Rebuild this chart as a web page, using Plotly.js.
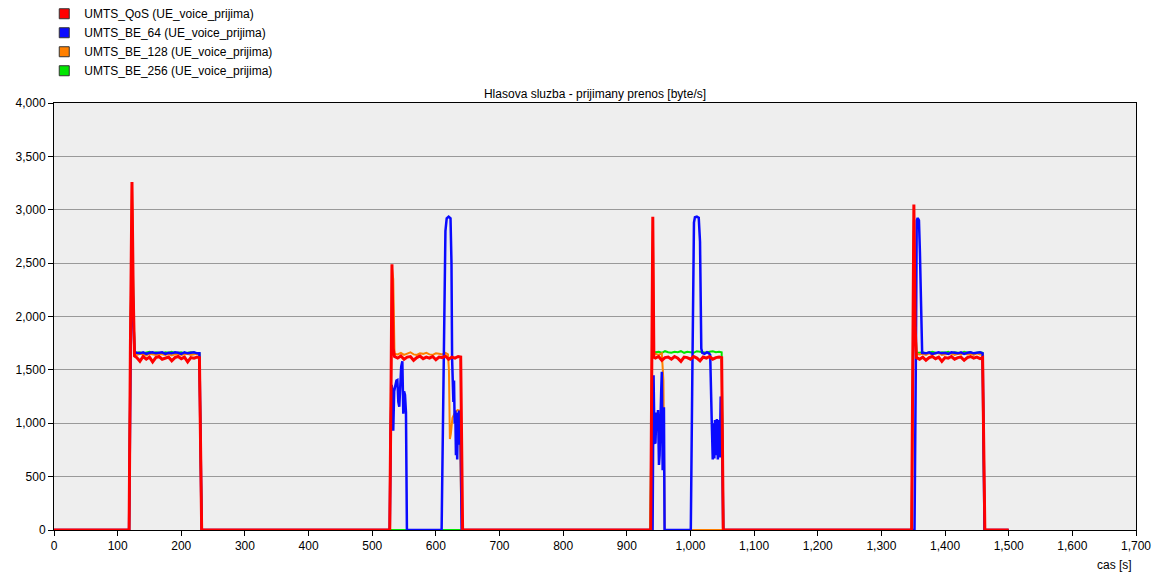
<!DOCTYPE html>
<html>
<head>
<meta charset="utf-8">
<script src="https://cdn.plot.ly/plotly-3.0.1.min.js"></script>
<style>html,body{margin:0;padding:0;background:#fff;}#chart{width:1160px;height:574px;}</style>
</head>
<body>
<div id="chart"></div>
<script>
// ---- Data ----
const seriesNames = [
  "UMTS_QoS (UE_voice_prijima)",
  "UMTS_BE_64 (UE_voice_prijima)",
  "UMTS_BE_128 (UE_voice_prijima)",
  "UMTS_BE_256 (UE_voice_prijima)"
];
const chartTitle = "Hlasova sluzba - prijimany prenos [byte/s]";
const xAxisLabel = "cas [s]";

// UMTS_QoS
const tQoS = [0,118,120,122.5,124.5,126.5,
  130,135,140,145,150,155,160,165,170,175,180,185,190,195,200,205,210,215,220,225,228.5,232,
  527.5,529.5,531,533,535,
  540,545,550,555,560,565,570,575,580,585,590,595,600,605,610,615,620,625,630,635,639,642,
  937.5,939.5,940.8,942.5,
  945,950,955,960,965,970,975,980,985,990,995,1000,1005,1010,1015,1020,1025,1030,1035,1040,1045,1049,1051.5,
  1347.5,1349.5,1351,1353,1355,
  1360,1365,1370,1375,1380,1385,1390,1395,1400,1405,1410,1415,1420,1425,1430,1435,1440,1445,1450,1455,1459,1462.5,1500];
const vQoS = [0,0,1700,3260,2200,1630,
  1615,1580,1625,1600,1620,1575,1615,1625,1600,1610,1620,1585,1615,1625,1605,1620,1575,1615,1610,1620,1615,0,
  0,1300,2490,1700,1625,
  1610,1630,1600,1620,1625,1590,1615,1630,1605,1620,1610,1625,1595,1620,1615,1630,1600,1620,1610,1625,1620,0,
  0,1500,2935,1620,
  1610,1625,1590,1615,1620,1600,1625,1610,1580,1620,1615,1600,1625,1610,1585,1620,1610,1625,1600,1615,1620,1615,0,
  0,1500,3050,1900,1615,
  1600,1620,1590,1615,1625,1605,1620,1580,1615,1610,1625,1600,1615,1620,1590,1615,1625,1610,1620,1605,1615,0,0];

// UMTS_BE_64
const tBE64 = [0,118,120,122.5,124.5,126.5,
  130,135,140,145,150,155,160,165,170,175,180,185,190,195,200,205,210,215,220,225,228.5,232,
  527.5,529,530.5,532,533,534.5,536,538,539.5,541,542.5,544,545.5,547.3,548.8,550,551.5,553,554.5,
  609,612,615,617,620,623,624.5,625.5,626.5,627.5,628.5,629.5,630.5,631.5,632.5,633.5,634.5,635.5,636.5,637.5,638.5,640.5,
  940.5,942,943.5,945,946.5,948,949,950.5,951.5,952.5,954,955,956.3,957.5,958.3,959.3,
  1000.5,1003,1005.5,1007,1010,1013,1015,1017,1018.5,1022,1026,1029,1031,1033.5,1035,1036.5,1037.5,1038.5,1040,1041.5,1043,1044.5,1046,1047.5,1049,1051.5,
  1352,1354,1355.5,1357,1359,1360.5,1362,1364,
  1370,1375,1380,1385,1390,1395,1400,1405,1410,1415,1420,1425,1430,1435,1440,1445,1450,1455,1459,1462,1500];
const vBE64 = [0,0,1400,2750,2000,1665,
  1660,1655,1665,1650,1660,1665,1655,1660,1665,1650,1660,1655,1665,1660,1650,1665,1655,1660,1665,1655,1655,0,
  0,900,1360,1300,930,1300,1340,1400,1405,1200,1155,1400,1530,1580,1090,1300,1265,1100,0,
  0,1200,2800,2920,2935,2920,2500,1600,1420,1200,1400,1000,1120,700,1100,660,1050,800,1120,1000,1080,0,
  0,1450,820,810,1100,1000,1124,610,700,1155,1300,1483,560,800,1150,0,
  0,1500,2880,2930,2935,2925,2700,1700,1660,1650,1665,1655,1640,1000,660,1000,670,1030,700,1040,660,1030,680,1250,1200,0,
  0,1500,2900,2923,2900,2600,2000,1660,
  1655,1665,1650,1660,1665,1655,1660,1650,1665,1660,1655,1665,1650,1660,1665,1655,1660,1665,1655,0,0];

// UMTS_BE_128
const tBE128 = [0,118,120,122.5,124.5,126.5,
  130,135,140,145,150,155,160,165,170,175,180,185,190,195,200,205,210,215,220,225,228.5,232,
  527.5,529.5,531,533,535,
  540,545,550,555,560,565,570,575,580,585,590,595,600,605,610,615,
  619,620.5,622,623.5,626,630,634,637,640.5,
  937.5,939.5,941,942.5,945,950,955,957.5,959.5,
  1347.5,1349.5,1351,1353,1355,
  1360,1365,1370,1375,1380,1385,1390,1395,1400,1405,1410,1415,1420,1425,1430,1435,1440,1445,1450,1455,1459,1462,1500];
const vBE128 = [0,0,1600,3200,2200,1645,
  1640,1650,1645,1635,1650,1645,1640,1650,1645,1640,1650,1635,1645,1650,1640,1645,1650,1640,1645,1650,1645,0,
  0,1500,2450,2350,1650,
  1645,1660,1640,1650,1665,1645,1640,1655,1650,1660,1645,1640,1655,1650,1645,1660,
  1645,1500,852,900,1050,1100,1124,1120,0,
  0,1600,2800,1650,1650,1640,1655,1400,0,
  0,1600,2900,2000,1650,
  1645,1650,1640,1655,1645,1650,1660,1640,1645,1650,1655,1640,1650,1645,1660,1645,1650,1640,1655,1645,1645,0,0];

// UMTS_BE_256
const tBE256 = [0,118,120,122.5,124.5,126.5,
  130,135,140,145,150,155,160,165,170,175,180,185,190,195,200,205,210,215,220,225,228.5,232,
  937,939,940,941.5,943,
  945,950,955,960,965,970,975,980,985,990,995,1000,1005,1010,1015,1020,1025,1030,1035,1040,1045,1049,1051.5,
  1347.5,1349.5,1351,1353,1355,
  1360,1365,1370,1375,1380,1385,1390,1395,1400,1405,1410,1415,1420,1425,1430,1435,1440,1445,1450,1455,1459,1462,1500];
const vBE256 = [0,0,1600,3100,2200,1655,
  1660,1665,1655,1660,1670,1655,1665,1660,1655,1665,1660,1670,1655,1660,1665,1655,1660,1665,1660,1655,1655,0,
  0,1200,2030,1700,1665,
  1665,1670,1660,1675,1665,1660,1670,1665,1675,1660,1670,1665,1660,1675,1670,1665,1660,1670,1675,1665,1670,1665,0,
  0,1600,2800,2000,1660,
  1660,1665,1655,1660,1670,1660,1655,1665,1660,1670,1655,1665,1660,1655,1670,1660,1665,1655,1660,1665,1660,0,0];

const colors = ["#FF0000", "#0A0AFF", "#FF8000", "#00E600"];

// ---- Traces ----
const FONT = "Liberation Sans, Arial, sans-serif";
const legendTraces = seriesNames.map((n, i) => ({
  x: [null], y: [null], type: "scatter", mode: "markers", name: n,
  marker: {symbol: "square", size: 10, color: colors[i], line: {color: "#333333", width: 1}},
  hoverinfo: "skip"
}));
const dataTraces = [
  {x: tBE256, y: vBE256, color: colors[3], w: 2, name: seriesNames[3]},
  {x: tBE128, y: vBE128, color: colors[2], w: 2, name: seriesNames[2]},
  {x: tBE64, y: vBE64, color: colors[1], w: 2.5, name: seriesNames[1]},
  {x: tQoS, y: vQoS, color: colors[0], w: 3, name: seriesNames[0]}
].map(s => ({
  x: s.x, y: s.y, type: "scatter", mode: "lines", name: s.name, showlegend: false,
  line: {color: s.color, width: s.w}
}));

const layout = {
  width: 1160, height: 574,
  margin: {l: 54, r: 24, t: 103, b: 44, pad: 0, autoexpand: false},
  paper_bgcolor: "#FFFFFF",
  plot_bgcolor: "#EEEEEE",
  font: {family: FONT, size: 12, color: "#000"},
  separators: ".,",
  showlegend: true,
  legend: {
    x: -0.009, xanchor: "left", y: 1.243, yanchor: "top",
    traceorder: "normal", bgcolor: "rgba(0,0,0,0)",
    font: {family: FONT, size: 12, color: "#000"},
    itemwidth: 30, tracegroupgap: 0
  },
  title: {
    text: chartTitle, font: {family: FONT, size: 12, color: "#000"},
    x: 0.5, xref: "paper", xanchor: "center",
    y: 1 - 94/574, yref: "container", yanchor: "middle"
  },
  xaxis: {
    range: [0, 1700], dtick: 100, tick0: 0, tickformat: ",",
    showgrid: false, zeroline: false,
    showline: true, linecolor: "#000", linewidth: 1, mirror: true,
    ticks: "outside", ticklen: 5, tickcolor: "#000", tickwidth: 1,
    tickfont: {family: FONT, size: 12, color: "#000"}
  },
  yaxis: {
    range: [0, 4000], dtick: 500, tick0: 0, tickformat: ",",
    showgrid: true, gridcolor: "#999999", gridwidth: 1, zeroline: false,
    showline: true, linecolor: "#000", linewidth: 1, mirror: true,
    ticks: "outside", ticklen: 5, tickcolor: "#000", tickwidth: 1,
    tickfont: {family: FONT, size: 12, color: "#000"}
  },
  annotations: [{
    text: xAxisLabel, xref: "paper", yref: "paper",
    x: 0.998, xanchor: "right", y: -0.082, yanchor: "middle",
    showarrow: false, font: {family: FONT, size: 12, color: "#000"}
  }],
  hovermode: false
};

Plotly.newPlot("chart", legendTraces.concat(dataTraces), layout, {displayModeBar: false, staticPlot: true});
</script>
</body>
</html>
